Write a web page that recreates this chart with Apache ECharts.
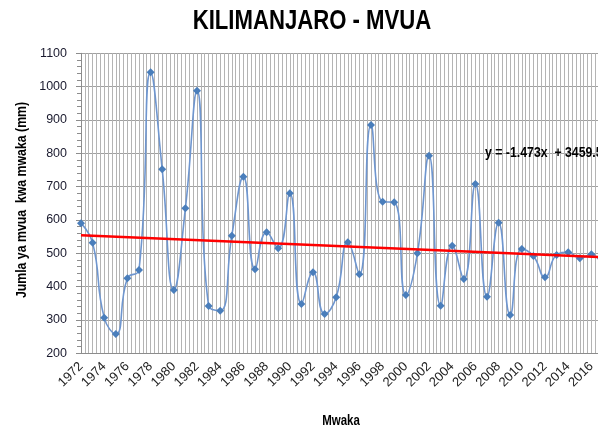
<!DOCTYPE html>
<html>
<head>
<meta charset="utf-8">
<script src="https://cdn.jsdelivr.net/npm/echarts@6/dist/echarts.min.js"></script>
<style>
html,body{margin:0;padding:0;background:#fff;}
#chart{width:598px;height:429px;}
</style>
</head>
<body>
<div id="chart"></div>
<script>
// Data
const years = [1972,1973,1974,1975,1976,1977,1978,1979,1980,1981,1982,1983,1984,1985,1986,1987,1988,1989,1990,1991,1992,1993,1994,1995,1996,1997,1998,1999,2000,2001,2002,2003,2004,2005,2006,2007,2008,2009,2010,2011,2012,2013,2014,2015,2016,2017];
const rainfall = [590,532,307,258,425,450,1043,752,390,635,988,342,328,553,730,452,563,515,680,348,443,318,368,533,437,885,655,653,375,500,793,343,523,423,708,370,592,315,513,492,428,495,503,485,497,458];
const trendYears = [1972, 2017];
const trendValues = [554.3, 488.2];
const yTicks = [200,300,400,500,600,700,800,900,1000,1100];
const titleText = 'KILIMANJARO - MVUA';
const yName = 'Jumla ya mvua  kwa mwaka (mm)';
const xName = 'Mwaka';
const equationText = 'y = -1.473x  + 3459.5';

const FONT = "'Liberation Sans', Arial, sans-serif";
const NARROW = 0.82;
const chart = echarts.init(document.getElementById('chart'), null, {renderer: 'canvas'});
const lineData = years.map((y, i) => [y, rainfall[i]]);
const trendData = trendYears.map((y, i) => [y, trendValues[i]]);

chart.setOption({
  animation: false,
  backgroundColor: '#ffffff',
  grid: {left: 81, top: 53.3, bottom: 75.7, width: 533.6, containLabel: false, outerBoundsMode: 'none'},
  xAxis: {
    type: 'value', min: 1972, max: 2018, interval: 2,
    axisLine: {show: true, lineStyle: {color: '#8c8c8c', width: 1}},
    axisTick: {show: false},
    minorTick: {show: false, splitNumber: 6},
    splitLine: {show: true, lineStyle: {color: '#b4b4b4', width: 1}},
    minorSplitLine: {show: true, lineStyle: {color: '#b4b4b4', width: 1}},
    axisLabel: {
      rotate: 45, margin: 11, color: '#222', fontFamily: FONT, fontSize: 13,
      formatter: v => (v <= 2016 ? String(v) : '')
    }
  },
  yAxis: {
    type: 'value', min: yTicks[0], max: yTicks[yTicks.length - 1], interval: 100,
    axisLine: {show: true, lineStyle: {color: '#8c8c8c', width: 1}},
    axisTick: {show: true, length: 5, inside: false, lineStyle: {color: '#8c8c8c'}},
    minorTick: {show: true, splitNumber: 5, length: 4, lineStyle: {color: '#8c8c8c'}},
    splitLine: {show: true, lineStyle: {color: '#a0a0a0', width: 1}},
    axisLabel: {margin: 14, color: '#1a1a2e', fontFamily: FONT, fontSize: 12.5, formatter: v => String(v)}
  },
  series: [
    {
      type: 'line', data: lineData, smooth: 0.5,
      symbol: 'diamond', symbolSize: 8,
      lineStyle: {color: '#6f96cf', width: 1.6},
      itemStyle: {color: '#4a7ebb'},
      z: 3
    },
    {
      type: 'line', data: trendData, symbol: 'none',
      lineStyle: {color: '#ff0000', width: 2.5},
      z: 4
    }
  ],
  graphic: [
    {type: 'text', x: 312, y: 22, scaleX: NARROW, style: {text: titleText, fontFamily: FONT, fontSize: 27, fontWeight: 'bold', fill: '#000', align: 'center', verticalAlign: 'middle'}},
    {type: 'text', x: 341, y: 421, scaleX: NARROW, style: {text: xName, fontFamily: FONT, fontSize: 14, fontWeight: 'bold', fill: '#000', align: 'center', verticalAlign: 'middle'}},
    {type: 'text', x: 22, y: 200, rotation: Math.PI / 2, scaleX: NARROW, style: {text: yName, fontFamily: FONT, fontSize: 15, fontWeight: 'bold', fill: '#000', align: 'center', verticalAlign: 'middle'}},
    {type: 'text', x: 485, y: 153, z: 10, scaleX: NARROW, style: {text: equationText, fontFamily: FONT, fontSize: 15, fontWeight: 'bold', fill: '#000', align: 'left', verticalAlign: 'middle'}}
  ]
});
</script>
</body>
</html>
